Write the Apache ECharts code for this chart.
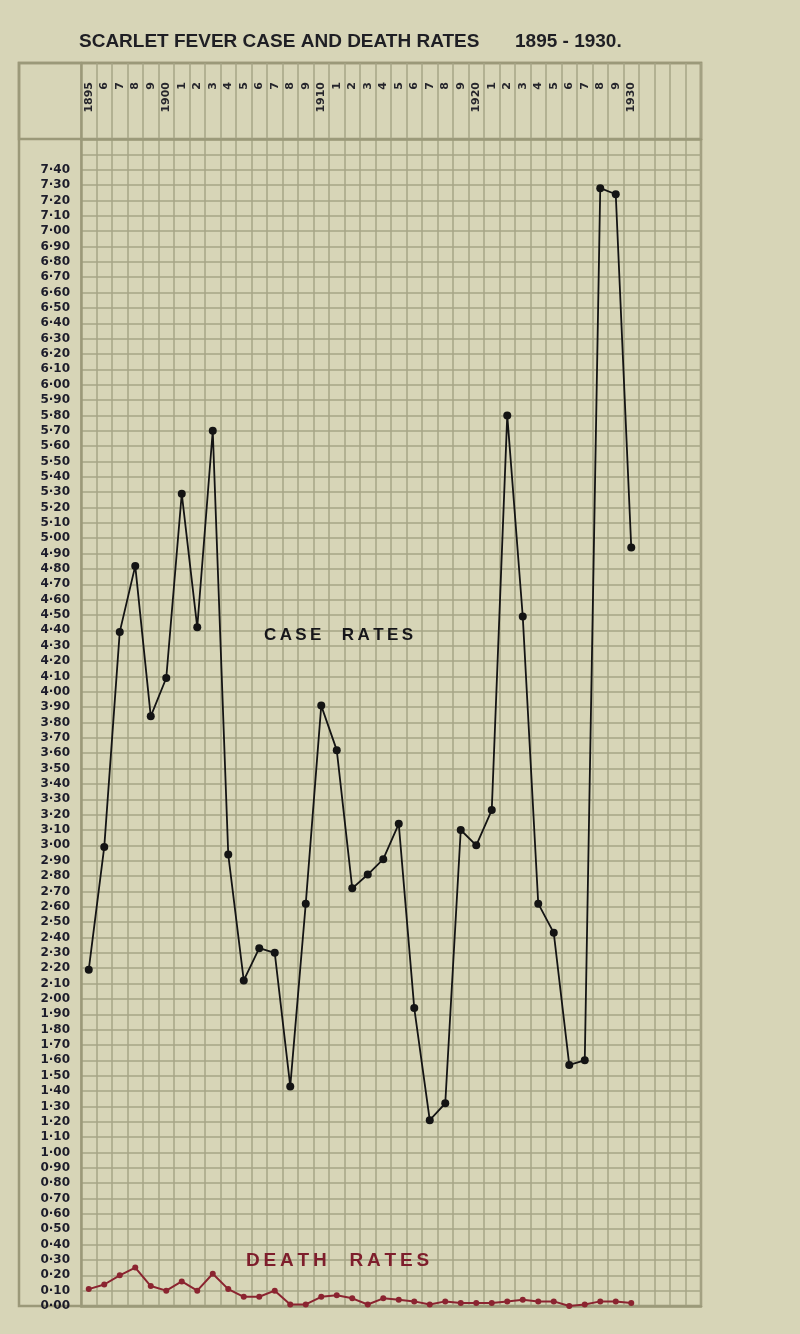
<!DOCTYPE html>
<html>
<head>
<meta charset="utf-8">
<script src="https://cdn.jsdelivr.net/npm/echarts@6/dist/echarts.min.js"></script>
<style>
html,body{margin:0;padding:0;background:#d7d5b7;}
#c{width:800px;height:1334px;}
</style>
</head>
<body>
<div id="c"></div>
<script>
// Columns of the chart sheet (1895-1930 plus four blank columns)
const years = ['1895','1896','1897','1898','1899','1900','1901','1902','1903','1904',
  '1905','1906','1907','1908','1909','1910','1911','1912','1913','1914',
  '1915','1916','1917','1918','1919','1920','1921','1922','1923','1924',
  '1925','1926','1927','1928','1929','1930','1931','1932','1933','1934'];
const yearLabels = ['1895','6','7','8','9','1900','1','2','3','4',
  '5','6','7','8','9','1910','1','2','3','4',
  '5','6','7','8','9','1920','1','2','3','4',
  '5','6','7','8','9','1930','','','',''];
// Case rates 1895-1930
const caseRates = [2.19, 2.99, 4.39, 4.82, 3.84, 4.09, 5.29, 4.42, 5.70, 2.94,
  2.12, 2.33, 2.30, 1.43, 2.62, 3.91, 3.62, 2.72, 2.81, 2.91,
  3.14, 1.94, 1.21, 1.32, 3.10, 3.00, 3.23, 5.80, 4.49, 2.62,
  2.43, 1.57, 1.60, 7.28, 7.24, 4.94];
// Death rates 1895-1930
const deathRates = [0.11, 0.14, 0.20, 0.25, 0.13, 0.10, 0.16, 0.10, 0.21, 0.11,
  0.06, 0.06, 0.10, 0.01, 0.01, 0.06, 0.07, 0.05, 0.01, 0.05,
  0.04, 0.03, 0.01, 0.03, 0.02, 0.02, 0.02, 0.03, 0.04, 0.03,
  0.03, 0.00, 0.01, 0.03, 0.03, 0.02];
const yMin = 0, yMax = 7.6, yStep = 0.1, yLabelMax = 7.4;

const gridColor = '#a6a486';
const frameColor = '#9b9979';
const ts = '\u2009';
const spaced = s => s.split(' ').map(w => w.split('').join(ts)).join('\u2003' + ts);

const R = 99; // right margin of the sheet
const chart = echarts.init(document.getElementById('c'));
chart.setOption({
  backgroundColor: '#d7d5b7',
  animation: false,
  title: [
    {text: 'SCARLET FEVER CASE AND DEATH RATES', left: 74, top: 27,
     textStyle: {fontFamily: 'Liberation Sans', fontSize: 19, fontWeight: 'bold', color: '#1f1f24'}},
    {text: '1895 - 1930.', left: 510, top: 27,
     textStyle: {fontFamily: 'Liberation Sans', fontSize: 19, fontWeight: 'bold', color: '#1f1f24'}},
    {text: spaced('CASE RATES'), left: 259, top: 622,
     textStyle: {fontFamily: 'Liberation Sans', fontSize: 17, fontWeight: 'bold', color: '#16161a'}},
    {text: spaced('DEATH RATES'), left: 241, top: 1246,
     textStyle: {fontFamily: 'Liberation Sans', fontSize: 19, fontWeight: 'bold', color: '#7e1e2c'}}
  ],
  grid: [
    {left: 19, right: R, top: 63, bottom: 28, show: true, borderColor: frameColor, borderWidth: 2.5, backgroundColor: 'transparent'},
    {left: 19, right: R, top: 63, height: 76, show: true, borderColor: frameColor, borderWidth: 2.5, backgroundColor: 'transparent'},
    {left: 81, right: R, top: 63, height: 76},
    {left: 81, right: R, top: 139, bottom: 28}
  ],
  xAxis: [
    {gridIndex: 0, type: 'value', show: false},
    {gridIndex: 1, type: 'value', show: false},
    {gridIndex: 2, type: 'category', position: 'top', data: years, boundaryGap: true,
     axisLine: {show: true, lineStyle: {color: frameColor, width: 2.5}},
     axisTick: {show: false},
     axisLabel: {inside: true, rotate: 90, margin: 19, interval: 0,
       formatter: (v, i) => yearLabels[i],
       fontFamily: 'DejaVu Sans', fontSize: 11, fontWeight: 'bold', color: '#26262c'},
     splitLine: {show: true, interval: 0, lineStyle: {color: gridColor, width: 1.5}}},
    {gridIndex: 3, type: 'category', position: 'bottom', data: years, boundaryGap: true,
     axisLine: {show: true, lineStyle: {color: frameColor, width: 2.5}},
     axisTick: {show: false}, axisLabel: {show: false},
     splitLine: {show: true, interval: 0, lineStyle: {color: gridColor, width: 1.5}}}
  ],
  yAxis: [
    {gridIndex: 0, type: 'value', show: false},
    {gridIndex: 1, type: 'value', show: false},
    {gridIndex: 2, type: 'value', min: 0, max: 1,
     axisLine: {show: true, lineStyle: {color: frameColor, width: 2.5}},
     axisLabel: {show: false}, axisTick: {show: false}, splitLine: {show: false}},
    {gridIndex: 3, type: 'value', min: yMin, max: yMax, interval: yStep,
     axisLine: {show: true, lineStyle: {color: frameColor, width: 2.5}},
     axisTick: {show: false},
     axisLabel: {margin: 11, fontFamily: 'DejaVu Sans', fontSize: 12, fontWeight: 'bold', color: '#1c1c2a',
       formatter: v => v > yLabelMax + 0.001 ? '' : v.toFixed(2).replace('.', '·')},
     splitLine: {show: true, lineStyle: {color: gridColor, width: 1.5}}}
  ],
  series: [
    {type: 'line', name: 'Case rates', xAxisIndex: 3, yAxisIndex: 3, data: caseRates,
     symbol: 'circle', symbolSize: 8, z: 5,
     lineStyle: {color: '#141414', width: 1.8}, itemStyle: {color: '#141414'}},
    {type: 'line', name: 'Death rates', xAxisIndex: 3, yAxisIndex: 3, data: deathRates,
     symbol: 'circle', symbolSize: 6, z: 4,
     lineStyle: {color: '#8b2430', width: 2}, itemStyle: {color: '#8b2430'}}
  ]
});
</script>
</body>
</html>
